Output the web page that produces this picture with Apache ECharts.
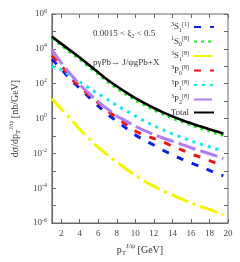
<!DOCTYPE html>
<html><head><meta charset="utf-8">
<script src="https://cdn.jsdelivr.net/npm/echarts@6/dist/echarts.min.js"></script>
<style>html,body{margin:0;padding:0;background:#fff}#c{width:240px;height:262px}</style>
</head><body><div id="c"></div>
<script>
const pt = [1,2,3,4,5,6,7,8,9,10,11,12,13,14,15,16,17,18,19,19.5];
const s3S1_1 = [2.5e3,710,178,54,16.6,5.2,1.78,0.71,0.28,0.112,0.056,0.03,0.015,8.3e-3,4.7e-3,2.8e-3,1.74e-3,1.05e-3,6.3e-4,5.2e-4];
const s1S0_8 = [4.0e4,1.6e4,6.3e3,2.5e3,930,355,132,56,25,11.7,6.0,3.2,1.78,1.05,0.66,0.43,0.28,0.19,0.13,0.11];
const s3S1_8 = [14.1,3.5,1.0,0.24,0.071,0.022,7.9e-3,3.2e-3,1.26e-3,5.6e-4,2.5e-4,1.26e-4,7.1e-5,4.0e-5,2.4e-5,1.41e-5,8.9e-6,6.0e-6,3.8e-6,3.0e-6];
const s3P0_8 = [4.0e3,1.12e3,224,71,22,7.9,2.8,1.12,0.45,0.19,0.112,0.071,0.045,0.026,0.0158,9.5e-3,6.0e-3,3.8e-3,2.4e-3,1.8e-3];
const s3P1_8 = [1000,630,282,126,56,26,12.6,5.6,2.8,1.41,0.71,0.38,0.224,0.132,0.083,0.052,0.035,0.024,0.0158,0.0132];
const s3P2_8 = [8.9e3,1.58e3,355,89,28,8.9,3.5,1.41,0.71,0.355,0.2,0.12,0.076,0.05,0.033,0.021,0.0141,9.5e-3,6.3e-3,5.0e-3];
const total  = [5.0e4,2.0e4,7.9e3,3.2e3,1.17e3,447,166,71,31.6,14.8,7.6,4.0,2.24,1.32,0.83,0.54,0.355,0.24,0.166,0.138];
const xTicks = [2,4,6,8,10,12,14,16,18,20];
const yExp = [-6,-4,-2,0,2,4,6];

const names = ['3S1_1','1S0_8','3S1_8','3P0_8','3P1_8','3P2_8','Total'];
const legendText = {
  '3S1_1':'{p|3}{m|S}{b|1}{p|[1]}',
  '1S0_8':'{p|1}{m|S}{b|0}{p|[8]}',
  '3S1_8':'{p|3}{m|S}{b|1}{p|[8]}',
  '3P0_8':'{p|3}{m|P}{b|0}{p|[8]}',
  '3P1_8':'{p|3}{m|P}{b|1}{p|[8]}',
  '3P2_8':'{p|3}{m|P}{b|2}{p|[8]}',
  'Total':'{m|Total}'
};
const seriesData = [s3S1_1,s1S0_8,s3S1_8,s3P0_8,s3P1_8,s3P2_8,total];
const colors = ['#0a1ee6','#22e622','#f5f500','#f01414','#14e6f0','#b07ef0','#000000'];
const dashes = [[7,9],[3,4],[18,5,3,5],[7,9],[3,5],[18,5],'solid'];
const widths = [3,3,3,3,3,3,2.6];
const serif = 'Liberation Serif';
const rich = {
  m:{fontFamily:serif,fontSize:9,color:'#333',lineHeight:12},
  p:{fontFamily:serif,fontSize:6,color:'#333',verticalAlign:'top',lineHeight:12,padding:[0,0,5,0]},
  b:{fontFamily:serif,fontSize:6,color:'#333',verticalAlign:'bottom',lineHeight:12,padding:[5,0,0,0]}
};
const nameRich = {
  m:{fontFamily:serif,fontSize:10,color:'#333'},
  p:{fontFamily:serif,fontSize:7,color:'#333',verticalAlign:'top',padding:[0,0,7,0]},
  b:{fontFamily:serif,fontSize:7,color:'#333',verticalAlign:'bottom',padding:[5,0,0,0]}
};
const chart = echarts.init(document.getElementById('c'),null,{renderer:'canvas'});
chart.setOption({
  animation:false,
  grid:{left:36,right:12,top:14,bottom:37,show:true,borderColor:'#666',borderWidth:1},
  legend:{
    orient:'vertical',right:20,top:16,align:'right',itemWidth:20,itemHeight:10,itemGap:2.5,
    data:names,
    formatter:n=>legendText[n],
    itemStyle:{opacity:0,color:'transparent',borderWidth:0},
    textStyle:{rich:rich,fontFamily:serif,fontSize:9,color:'#333'}
  },
  xAxis:[{
    type:'value',min:1,max:20,interval:2,
    name:'{m|p}{b|T}{p|J/ψ}{m| [GeV]}',nameLocation:'middle',nameGap:20,
    nameTextStyle:{rich:nameRich},
    axisLine:{lineStyle:{color:'#666'}},
    axisTick:{inside:true,length:4,lineStyle:{color:'#666'},customValues:xTicks},
    splitLine:{show:false},
    axisLabel:{fontFamily:serif,fontSize:9,color:'#444',margin:6,customValues:xTicks}
  },{
    type:'value',min:1,max:20,position:'top',
    axisLine:{show:false},
    axisTick:{inside:true,length:4,lineStyle:{color:'#666'},customValues:xTicks},
    splitLine:{show:false},
    axisLabel:{show:false}
  }],
  yAxis:[{
    type:'log',logBase:10,min:1e-6,max:1e6,interval:1,
    name:'{m|dσ/dp}{b|T}{p|J/ψ}{m| [nb/GeV]}',nameLocation:'middle',nameGap:24,
    nameTextStyle:{rich:nameRich},
    axisLine:{show:true,lineStyle:{color:'#666'}},
    axisTick:{show:true,inside:true,length:4,lineStyle:{color:'#666'}},
    splitLine:{show:false},
    axisLabel:{
      fontFamily:serif,fontSize:9,color:'#444',margin:5,
      formatter:v=>{const e=Math.round(Math.log10(v)); if(!yExp.includes(e)) return ''; return '{m|10}{p|'+String(e)+'}';},
      rich:{m:{fontFamily:serif,fontSize:9,color:'#444'},p:{fontFamily:serif,fontSize:6,color:'#444',verticalAlign:'top',padding:[0,0,6,0]}}
    }
  },{
    type:'log',logBase:10,min:1e-6,max:1e6,interval:1,position:'right',
    axisLine:{show:false},
    axisTick:{show:true,inside:true,length:4,lineStyle:{color:'#666'}},
    splitLine:{show:false},
    axisLabel:{show:false}
  }],
  graphic:[
    {type:'text',left:93,top:29,style:{text:'0.0015 < ξ₂ < 0.5',font:'9px "Liberation Serif"',fill:'#333'}},
    {type:'text',left:93,top:58,style:{text:'pγPb→ J/ψgPb+X',font:'9px "Liberation Serif"',fill:'#333'}}
  ],
  series:names.map((n,i)=>({
    name:n,type:'line',smooth:0.3,symbol:'none',z:i===6?10:(i===1?9:5),
    xAxisIndex:0,yAxisIndex:0,
    data:pt.map((x,j)=>[x,seriesData[i][j]]),
    lineStyle:{color:colors[i],width:widths[i],type:dashes[i],cap:'butt'},
    itemStyle:{color:colors[i]}
  }))
});
</script></body></html>
